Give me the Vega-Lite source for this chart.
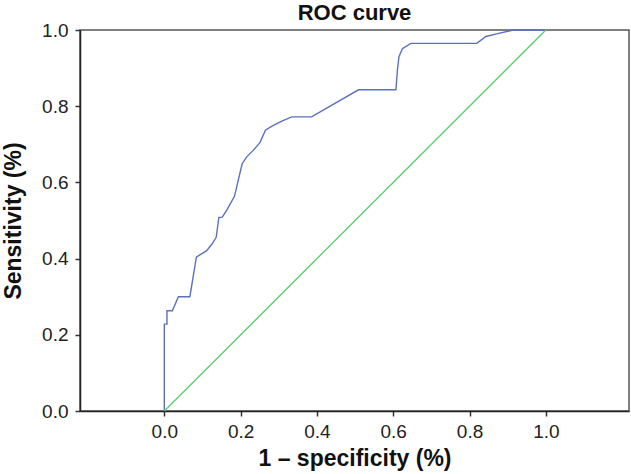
{
  "$schema": "https://vega.github.io/schema/vega-lite/v6.json",
  "width": 549,
  "height": 381,
  "autosize": {"type": "none"},
  "padding": {"left": 80, "top": 30, "right": 2, "bottom": 63},
  "background": "white",
  "title": {"text": "ROC curve", "font": "Liberation Sans", "fontSize": 22, "fontWeight": "bold", "color": "#111111", "baseline": "alphabetic", "offset": -21, "anchor": "middle"},
  "config": {
    "view": {"stroke": "#555555", "strokeWidth": 1.5},
    "axis": {"grid": false, "labelFont": "Liberation Sans", "labelFontSize": 19, "labelColor": "#222222", "tickSize": 5, "tickColor": "#333333", "tickWidth": 1.5, "domainColor": "#222222", "domainWidth": 1.5, "titleFont": "Liberation Sans", "titleFontSize": 23, "titleFontWeight": "bold", "titleColor": "#111111"}
  },
  "data": {"values": [
    {"series": "ROC", "i": 0, "fpr": 0, "tpr": 0},
    {"series": "ROC", "i": 1, "fpr": 0, "tpr": 0.228},
    {"series": "ROC", "i": 2, "fpr": 0.007, "tpr": 0.228},
    {"series": "ROC", "i": 3, "fpr": 0.007, "tpr": 0.263},
    {"series": "ROC", "i": 4, "fpr": 0.021, "tpr": 0.263},
    {"series": "ROC", "i": 5, "fpr": 0.037, "tpr": 0.3},
    {"series": "ROC", "i": 6, "fpr": 0.067, "tpr": 0.3},
    {"series": "ROC", "i": 7, "fpr": 0.084, "tpr": 0.404},
    {"series": "ROC", "i": 8, "fpr": 0.111, "tpr": 0.421},
    {"series": "ROC", "i": 9, "fpr": 0.124, "tpr": 0.437},
    {"series": "ROC", "i": 10, "fpr": 0.136, "tpr": 0.456},
    {"series": "ROC", "i": 11, "fpr": 0.143, "tpr": 0.508},
    {"series": "ROC", "i": 12, "fpr": 0.152, "tpr": 0.509},
    {"series": "ROC", "i": 13, "fpr": 0.166, "tpr": 0.531},
    {"series": "ROC", "i": 14, "fpr": 0.184, "tpr": 0.564},
    {"series": "ROC", "i": 15, "fpr": 0.204, "tpr": 0.649},
    {"series": "ROC", "i": 16, "fpr": 0.216, "tpr": 0.667},
    {"series": "ROC", "i": 17, "fpr": 0.233, "tpr": 0.684},
    {"series": "ROC", "i": 18, "fpr": 0.251, "tpr": 0.705},
    {"series": "ROC", "i": 19, "fpr": 0.265, "tpr": 0.737},
    {"series": "ROC", "i": 20, "fpr": 0.281, "tpr": 0.747},
    {"series": "ROC", "i": 21, "fpr": 0.308, "tpr": 0.761},
    {"series": "ROC", "i": 22, "fpr": 0.334, "tpr": 0.772},
    {"series": "ROC", "i": 23, "fpr": 0.386, "tpr": 0.772},
    {"series": "ROC", "i": 24, "fpr": 0.509, "tpr": 0.843},
    {"series": "ROC", "i": 25, "fpr": 0.607, "tpr": 0.843},
    {"series": "ROC", "i": 26, "fpr": 0.611, "tpr": 0.895},
    {"series": "ROC", "i": 27, "fpr": 0.615, "tpr": 0.93},
    {"series": "ROC", "i": 28, "fpr": 0.624, "tpr": 0.951},
    {"series": "ROC", "i": 29, "fpr": 0.646, "tpr": 0.965},
    {"series": "ROC", "i": 30, "fpr": 0.819, "tpr": 0.965},
    {"series": "ROC", "i": 31, "fpr": 0.843, "tpr": 0.983},
    {"series": "ROC", "i": 32, "fpr": 0.871, "tpr": 0.99},
    {"series": "ROC", "i": 33, "fpr": 0.915, "tpr": 1.0},
    {"series": "ROC", "i": 34, "fpr": 1.0, "tpr": 1.0},
    {"series": "Reference", "i": 0, "fpr": 0, "tpr": 0},
    {"series": "Reference", "i": 1, "fpr": 1, "tpr": 1}
  ]},
  "mark": {"type": "line", "strokeWidth": 1.4, "clip": false},
  "encoding": {
    "x": {"field": "fpr", "type": "quantitative", "scale": {"domain": [-0.221, 1.218], "nice": false, "zero": false},
      "axis": {"values": [0, 0.2, 0.4, 0.6, 0.8, 1.0], "format": ".1f", "labelPadding": 6, "title": "1 – specificity (%)", "titleBaseline": "alphabetic", "titleY": 54}},
    "y": {"field": "tpr", "type": "quantitative", "scale": {"domain": [0, 1], "nice": false},
      "axis": {"values": [0, 0.2, 0.4, 0.6, 0.8, 1.0], "format": ".1f", "labelPadding": 7, "title": "Sensitivity (%)", "titleBaseline": "alphabetic", "titleX": -60}},
    "color": {"field": "series", "type": "nominal", "scale": {"domain": ["ROC", "Reference"], "range": ["#5b70c0", "#5ecf6e"]}, "legend": null},
    "order": {"field": "i", "type": "quantitative"}
  }
}
